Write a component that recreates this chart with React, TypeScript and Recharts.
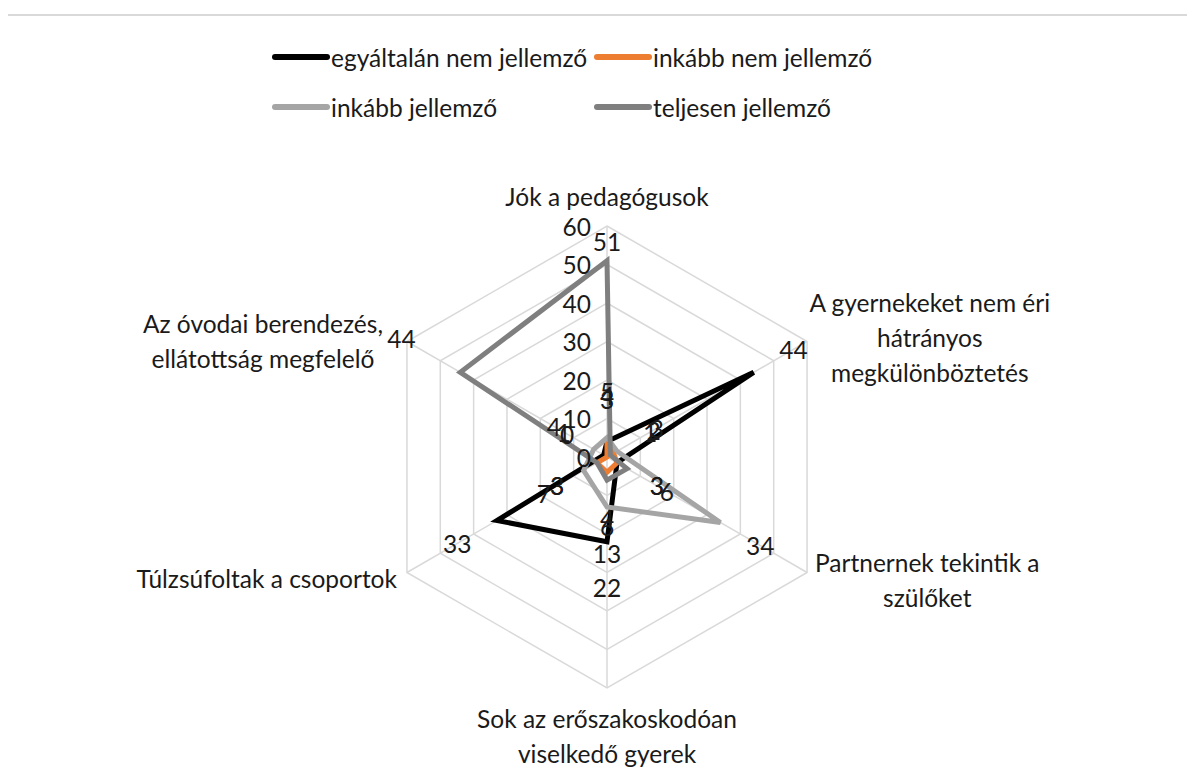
import React from "react"
import { RadarChart, Radar, PolarGrid, PolarAngleAxis, PolarRadiusAxis, LabelList, Legend } from "recharts"

const categories = [
  "Jók a pedagógusok",
  "A gyernekeket nem éri\nhátrányos\nmegkülönböztetés",
  "Partnernek tekintik a\nszülőket",
  "Sok az erőszakoskodóan\nviselkedő gyerek",
  "Túlzsúfoltak a csoportok",
  "Az óvodai berendezés,\nellátottság megfelelő",
]

const seriesNames = ["egyáltalán nem jellemző", "inkább nem jellemző", "inkább jellemző", "teljesen jellemző"]
const seriesColors = ["#000000", "#ED7D31", "#A5A5A5", "#7F7F7F"]

const egyaltalanNem = [4, 44, 3, 22, 33, 1]
const inkabbNem = [3, 2, 3, 4, 3, 0]
const inkabb = [5, 3, 34, 13, 7, 4]
const teljesen = [51, 1, 6, 6, 3, 44]

const radiusTicks = [0, 10, 20, 30, 40, 50, 60]

const keys = ["s0", "s1", "s2", "s3"]
const data = categories.map((c, i) => ({
  category: c,
  s0: egyaltalanNem[i],
  s1: inkabbNem[i],
  s2: inkabb[i],
  s3: teljesen[i],
}))

const W = 1200
const H = 780
const CX = 602
const CY = 441
const R = 231
const FONT = "Lato, 'Noto Sans', sans-serif"
const FS = 24.5

let ctx: CanvasRenderingContext2D | null = null
const textWidth = (s: string) => {
  if (!ctx) ctx = document.createElement("canvas").getContext("2d")
  if (!ctx) return s.length * FS * 0.5
  ctx.font = `${FS}px Lato`
  return ctx.measureText(s).width
}

const AngleTick = (props: any) => {
  const { payload } = props
  const lines: string[] = String(payload.value).split("\n")
  const ang = Math.round(payload.coordinate)
  const rad = (ang * Math.PI) / 180
  const vx = CX + R * Math.cos(rad)
  const vy = CY - R * Math.sin(rad)
  const bw = Math.max(...lines.map(textWidth))
  const lh = 35
  let x = vx
  let y0 = vy
  if (ang === 90) {
    y0 = vy - 30 - (lines.length - 1) * lh
  } else if (ang === 30) {
    x = vx + 2 + bw / 2
    y0 = vy - 4 - ((lines.length - 1) * lh) / 2
  } else if (ang === -30) {
    x = vx + 8 + bw / 2
    y0 = vy - 10
  } else if (ang === -90) {
    y0 = vy + 30
  } else if (ang === -150) {
    x = vx - 10 - bw / 2
    y0 = vy + 6
  } else {
    x = vx - 24 - bw / 2
    y0 = vy - 18
  }
  return (
    <text x={x} y={y0} textAnchor="middle" fontSize={FS} fontFamily={FONT} fill="#1a1a1a">
      {lines.map((l, i) => (
        <tspan key={i} x={x} y={y0 + i * lh} dominantBaseline="central">
          {l}
        </tspan>
      ))}
    </text>
  )
}

const RadiusTick = (props: any) => {
  const { x, y, payload } = props
  return (
    <text x={x - 16} y={y} textAnchor="end" dominantBaseline="central" fontSize={FS} fontFamily={FONT} fill="#1a1a1a">
      {payload.value}
    </text>
  )
}

const PointLabel = (props: any) => {
  const px = props.x ?? props.viewBox?.x
  const py = props.y ?? props.viewBox?.y
  const { value, index } = props
  if (px == null || py == null) return null
  const dx = px - CX
  const dy = py - CY
  const r = Math.sqrt(dx * dx + dy * dy)
  const a = ((90 - (index ?? 0) * (360 / categories.length)) * Math.PI) / 180
  const ux = Math.cos(a)
  const uy = -Math.sin(a)
  let lr = r + 46
  if (Math.abs(ux) < 0.2 && uy < 0) lr = Math.min(lr, R - 15)
  if (ux < -0.5) lr += r > 150 ? 22 : 0
  return (
    <text
      x={CX + ux * lr}
      y={CY + uy * lr}
      textAnchor="middle"
      dominantBaseline="central"
      fontSize={FS}
      fontFamily={FONT}
      fill="#1a1a1a"
    >
      {value}
    </text>
  )
}

const renderLegend = () => {
  const pos = [
    { x: 272, y: 57 },
    { x: 594, y: 57 },
    { x: 272, y: 107 },
    { x: 594, y: 107 },
  ]
  return (
    <div style={{ position: "relative", width: W, height: 140 }}>
      {seriesNames.map((n, i) => (
        <div
          key={n}
          style={{
            position: "absolute",
            left: pos[i].x - 5,
            top: pos[i].y - 16 - 16,
            height: 32,
            display: "flex",
            alignItems: "center",
            fontFamily: FONT,
            fontSize: FS,
            color: "#1a1a1a",
            whiteSpace: "nowrap",
          }}
        >
          <span
            style={{
              display: "inline-block",
              width: 58,
              height: 6,
              borderRadius: 3,
              background: seriesColors[i],
              marginRight: 1,
            }}
          />
          {n}
        </div>
      ))}
    </div>
  )
}

export default function App() {
  return (
    <div
      style={{
        position: "relative",
        left: -5,
        top: 6,
        width: W,
        height: H,
        borderTop: "2px solid #d9d9d9",
        borderLeft: "2px solid #d9d9d9",
        background: "#fff",
      }}
    >
      <RadarChart width={W} height={H} data={data} cx={CX} cy={CY} outerRadius={R} startAngle={90} endAngle={-270}>
        <PolarGrid gridType="polygon" stroke="#d9d9d9" strokeWidth={1.5} />
        <PolarAngleAxis dataKey="category" tick={<AngleTick />} tickLine={false} axisLine={false} />
        <PolarRadiusAxis
          angle={90}
          domain={[0, 60]}
          ticks={radiusTicks}
          tickCount={7}
          tick={<RadiusTick />}
          axisLine={false}
          tickLine={false}
        />
        {keys.map((k, i) => (
          <Radar
            key={k}
            name={seriesNames[i]}
            dataKey={k}
            stroke={seriesColors[i]}
            strokeWidth={5}
            strokeLinejoin="miter"
            fill="none"
            fillOpacity={0}
            dot={false}
            isAnimationActive={false}
          >
            <LabelList dataKey={k} content={<PointLabel />} />
          </Radar>
        ))}
        <Legend
          verticalAlign="top"
          content={renderLegend}
          wrapperStyle={{ position: "absolute", top: 0, left: 0, width: W }}
        />
      </RadarChart>
    </div>
  )
}
